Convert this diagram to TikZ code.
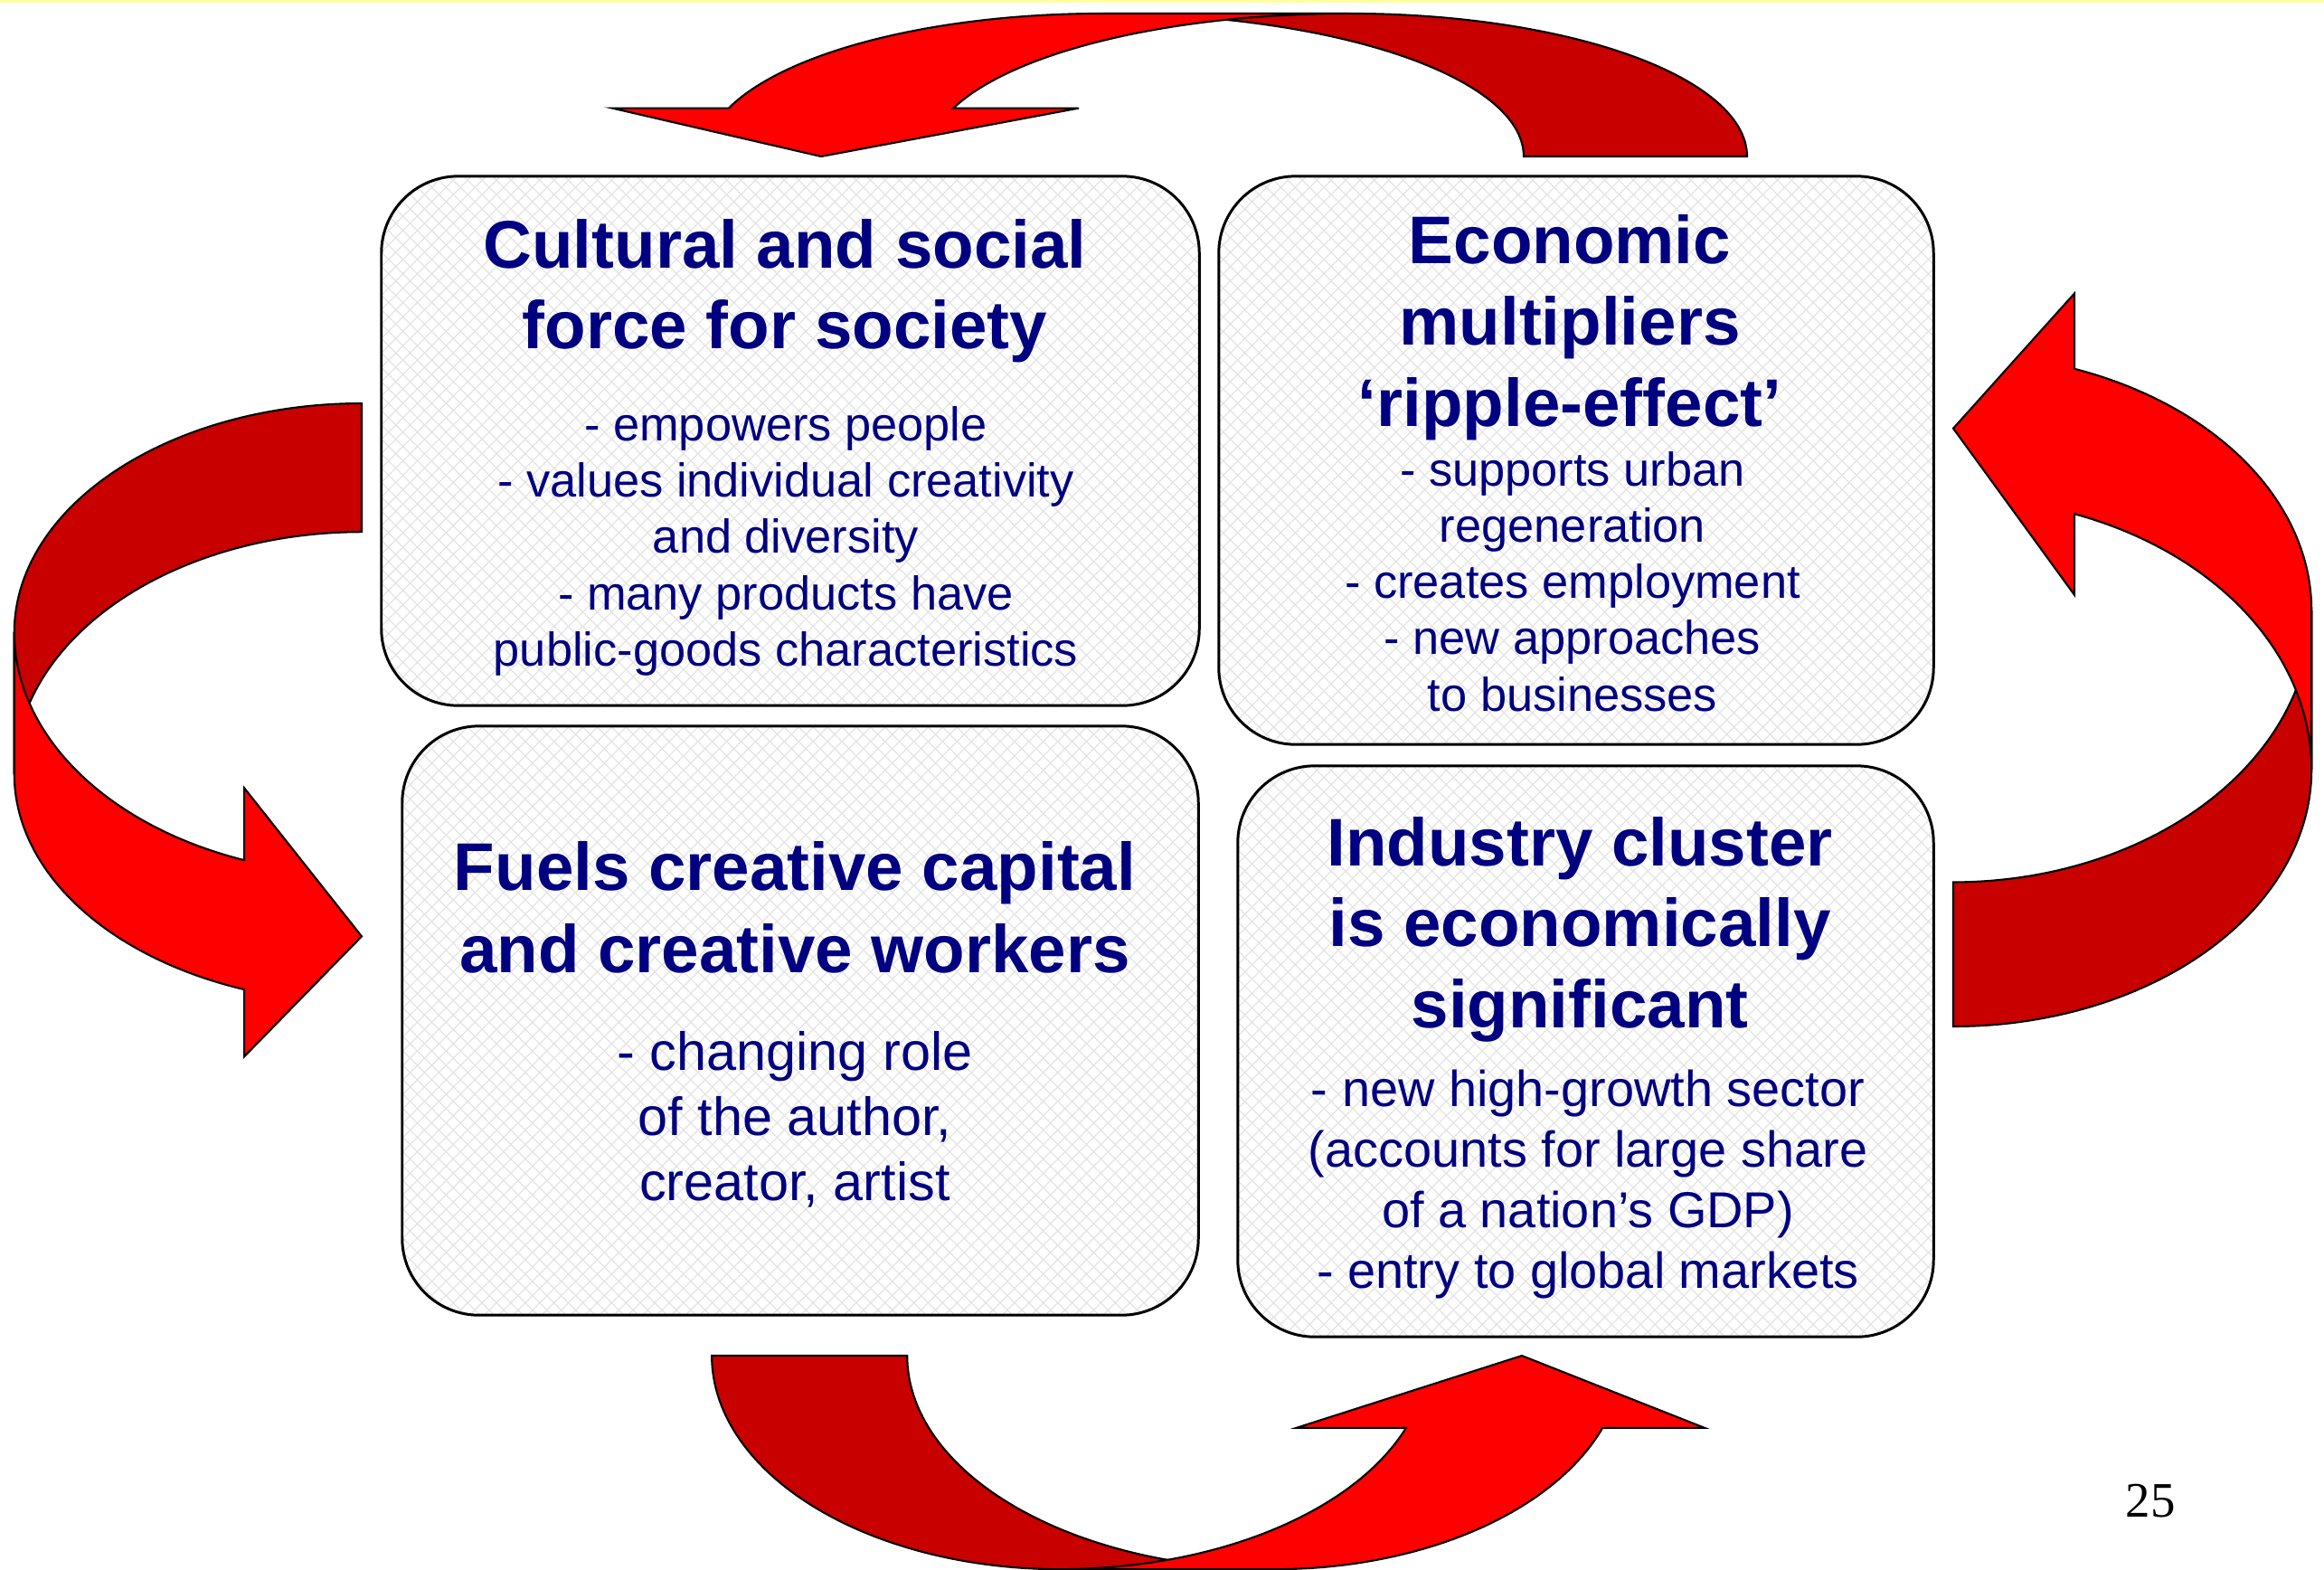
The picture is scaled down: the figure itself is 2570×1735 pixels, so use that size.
\documentclass[tikz,border=0pt]{standalone}
\usepackage{fontspec}
\setmainfont{Liberation Sans}
\newfontfamily\timesf{Liberation Serif}
\usetikzlibrary{patterns.meta}
\definecolor{navytext}{RGB}{0,0,128}
\definecolor{redlight}{RGB}{255,0,0}
\definecolor{reddark}{RGB}{200,0,0}
\definecolor{topline}{RGB}{255,255,160}
\definecolor{hatch}{RGB}{228,228,228}

\newcommand\ribbonshape{%
  \filldraw[darkband] (136,1)
    -- plot[domain=90:0,samples=60,variable=\a] ({136+440*cos(\a)},{sin(\a)})
    -- plot[domain=0:90,samples=60,variable=\a] ({-136+465*cos(\a)},{sin(\a)})
    -- cycle;
  \filldraw[lightband] (-136,1)
    -- plot[domain=90:160.24,samples=60,variable=\a] ({-136+440*cos(\a)},{sin(\a)})
    -- (-679,0.338) -- (-448,0) -- (-163,0.338)
    -- plot[domain=160.24:90,samples=60,variable=\a] ({136+465*cos(\a)},{sin(\a)})
    -- cycle;
}

\tikzset{
  darkband/.style={fill=reddark, draw=black, line width=0.6pt, line join=miter},
  lightband/.style={fill=redlight, draw=black, line width=0.6pt, line join=miter},
  box/.style={rounded corners=0.85cm, fill=white,
    inner sep=0pt, outer sep=0pt,
    postaction={pattern={Lines[angle=45,distance=3.2pt,line width=0.35pt]}, pattern color=hatch},
    postaction={pattern={Lines[angle=-45,distance=3.2pt,line width=0.35pt]}, pattern color=hatch},
    postaction={draw=black, line width=0.85pt}},
  title/.style={anchor=base, inner sep=0pt, text=navytext,
    font=\fontsize{21.2pt}{25pt}\selectfont\bfseries},
  bul/.style={anchor=base, inner sep=0pt, text=navytext,
    font=\fontsize{#1}{#1}\selectfont},
  pagenum/.style={anchor=base west, inner sep=0pt, text=black,
    font=\timesf\fontsize{15.6pt}{18pt}\selectfont}
}

\begin{document}
\begin{tikzpicture}[x=0.01cm, y=-0.01cm]
\useasboundingbox (0,0) rectangle (2570,1735);
\fill[white] (0,0) rectangle (2570,1735);
\fill[topline] (0,0) rectangle (2570,3);

% ribbon arrows
\begin{scope}[shift={(1356,173)}, x={(0.01cm,0cm)}, y={(0cm,1.58cm)}]
  \ribbonshape
\end{scope}
\begin{scope}[shift={(400,777.5)}, x={(0cm,0.00575cm)}, y={(-3.84cm,0cm)}]
  \ribbonshape
\end{scope}
\begin{scope}[shift={(2160,763)}, x={(0cm,-0.00645cm)}, y={(3.96cm,0cm)}]
  \ribbonshape
\end{scope}
\begin{scope}[shift={(1291,1499)}, x={(-0.00875cm,0cm)}, y={(0cm,-2.36cm)}]
  \ribbonshape
\end{scope}

% boxes
\node[box, minimum width=9.04cm, minimum height=5.85cm] (boxTL) at (874,487.5) {};
\node[box, minimum width=7.90cm, minimum height=6.28cm] (boxTR) at (1743,509) {};
\node[box, minimum width=8.80cm, minimum height=6.51cm] (boxBL) at (885,1128.5) {};
\node[box, minimum width=7.69cm, minimum height=6.31cm] (boxBR) at (1753.5,1162.5) {};

% top-left text
\foreach \txt [count=\i] in {{Cultural and social},{force for society}}
  \node[title] (tlT\i) at (868,{296+(\i-1)*89}) {\txt};
\foreach \txt [count=\i] in {{- empowers people},{- values individual creativity},{and diversity},{- many products have},{public-goods characteristics}}
  \node[bul=14.9pt] (tlB\i) at (869,{487+(\i-1)*62.4}) {\txt};

% top-right text
\foreach \txt [count=\i] in {{Economic},{multipliers},{‘ripple-effect’}}
  \node[title] (trT\i) at (1736,{291+(\i-1)*90}) {\txt};
\foreach \txt [count=\i] in {{- supports urban},{regeneration},{- creates employment},{- new approaches},{to businesses}}
  \node[bul=14.9pt] (trB\i) at (1739,{537+(\i-1)*62.3}) {\txt};

% bottom-left text
\foreach \txt [count=\i] in {{Fuels creative capital},{and creative workers}}
  \node[title] (blT\i) at (879,{984+(\i-1)*91}) {\txt};
\foreach \txt [count=\i] in {{- changing role},{of the author,},{creator, artist}}
  \node[bul=16.9pt] (blB\i) at (879,{1183+(\i-1)*72}) {\txt};

% bottom-right text
\foreach \txt [count=\i] in {{Industry cluster},{is economically},{significant}}
  \node[title] (brT\i) at (1747,{957+(\i-1)*89.5}) {\txt};
\foreach \txt [count=\i] in {{- new high-growth sector},{(accounts for large share},{of a nation’s GDP)},{- entry to global markets}}
  \node[bul=15.9pt] (brB\i) at (1756,{1223+(\i-1)*67}) {\txt};

\node[pagenum] (pg) at (2350,1677) {25};
\end{tikzpicture}
\end{document}
